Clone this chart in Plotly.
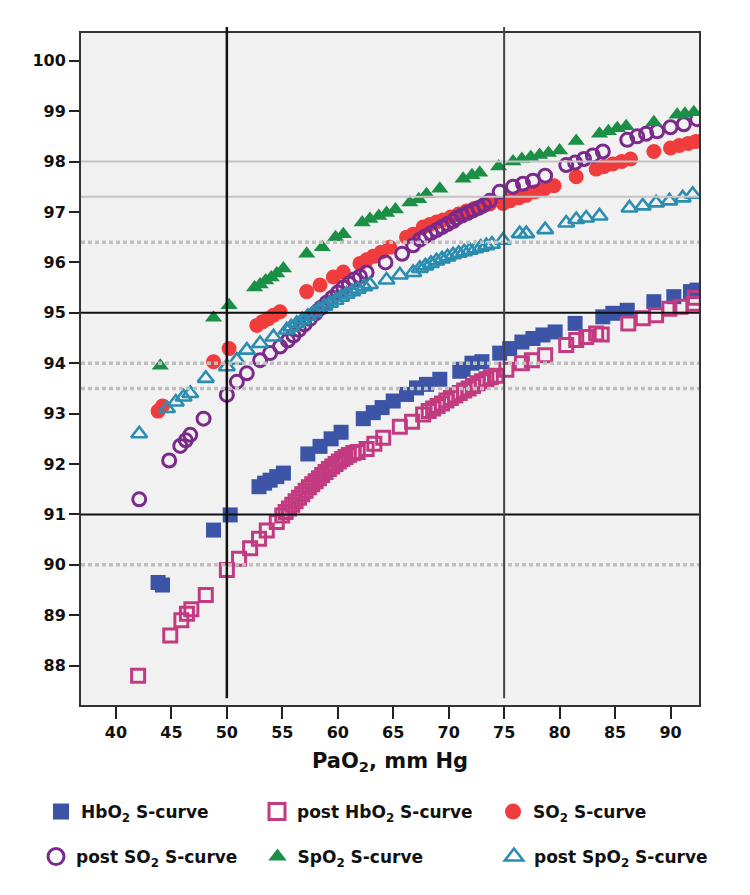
import plotly.graph_objects as go

# ---------------- data ----------------
hbo2_x = [43.8, 44.2, 48.8, 50.3, 52.9, 53.4, 53.9, 54.5, 55.1, 57.3, 58.4, 59.4, 60.3, 62.3, 63.2, 64.0,
          65.0, 66.2, 67.1, 68.0, 69.2, 71.0, 71.3, 72.1, 73.0, 74.6, 75.5, 76.6, 77.6, 78.5, 79.6, 81.4,
          83.9, 84.8, 86.1, 88.5, 90.3, 91.8, 92.4]
hbo2_y = [89.65, 89.6, 90.69, 90.99, 91.55, 91.62, 91.68, 91.75, 91.82, 92.2, 92.35, 92.5, 92.63, 92.9, 93.02, 93.12,
          93.25, 93.38, 93.51, 93.58, 93.68, 93.84, 93.88, 94.0, 94.03, 94.2, 94.29, 94.42, 94.49, 94.56, 94.62, 94.79,
          94.92, 94.99, 95.05, 95.22, 95.32, 95.42, 95.45]

post_hbo2_x = [42.0, 44.9, 45.9, 46.4, 46.8, 48.1, 50.0, 51.1, 52.1, 52.9, 53.6, 54.5,
               55.0, 55.3, 55.6, 55.9, 56.2, 56.5, 56.8, 57.1, 57.4, 57.7, 58.0, 58.3, 58.6, 58.9, 59.2, 59.5,
               59.8, 60.1, 60.4, 60.7, 61.0, 61.4, 61.8, 62.6, 63.3, 64.1, 65.6, 66.7, 67.7,
               68.2, 68.6, 69.0, 69.4, 69.8, 70.2, 70.6, 71.0, 71.4, 71.8, 72.2, 72.6, 73.0, 73.4, 73.8,
               74.3, 75.2, 76.6, 77.5, 78.7, 80.6, 81.5, 82.4, 83.3, 83.8, 86.2, 87.5, 88.7, 89.9, 90.9, 92.1, 92.2]
post_hbo2_y = [87.8, 88.6, 88.9, 89.03, 89.12, 89.4, 89.9, 90.12, 90.33, 90.52, 90.68, 90.85,
               90.98, 91.05, 91.12, 91.19, 91.26, 91.33, 91.4, 91.47, 91.54, 91.6, 91.66, 91.72, 91.78, 91.84, 91.9, 91.95,
               92.0, 92.05, 92.1, 92.14, 92.18, 92.22, 92.24, 92.3, 92.4, 92.52, 92.74, 92.84, 92.98,
               93.05, 93.1, 93.15, 93.2, 93.26, 93.31, 93.36, 93.41, 93.46, 93.5, 93.55, 93.6, 93.64, 93.68, 93.72,
               93.75, 93.87, 94.0, 94.06, 94.16, 94.36, 94.46, 94.52, 94.59, 94.57, 94.79, 94.89, 94.95, 95.08, 95.12, 95.18, 95.3]

so2_x = [43.8, 44.2, 48.8, 50.2, 52.7, 53.2, 53.7, 54.2, 54.8, 57.2, 58.4, 59.6, 60.5, 62.0, 62.6, 63.2,
         63.9, 64.7, 66.2, 66.8, 67.7, 68.3, 68.9, 69.5, 70.2, 70.9, 71.6, 72.3, 73.0, 73.7, 74.9, 75.5,
         76.3, 77.0, 77.8, 78.6, 79.5, 81.5, 83.3, 84.0, 84.8, 85.6, 86.4, 88.5, 90.0, 90.8, 91.6, 92.3]
so2_y = [93.05, 93.15, 94.03, 94.29, 94.75, 94.82, 94.88, 94.95, 95.02, 95.42, 95.55, 95.71, 95.81, 95.98, 96.05, 96.12,
         96.2, 96.3, 96.5, 96.56, 96.7, 96.75, 96.8, 96.84, 96.9, 96.96, 97.02, 97.07, 97.11, 97.16, 97.17, 97.22,
         97.28, 97.33, 97.4, 97.45, 97.52, 97.7, 97.85, 97.9, 97.95, 98.0, 98.05, 98.2, 98.27, 98.32, 98.36, 98.4]

post_so2_x = [42.1, 44.8, 45.8, 46.3, 46.7, 47.9, 50.0, 50.9, 51.8, 53.0, 53.9, 54.8,
              55.5, 56.0, 56.5, 57.0, 57.5, 58.0, 58.5, 59.0, 59.5, 60.0, 60.5, 61.0, 61.5, 62.0, 62.6,
              64.3, 65.8, 66.8, 67.4, 67.9, 68.4, 68.9, 69.4, 69.9, 70.4, 70.7, 71.2, 71.7, 72.2, 72.7,
              73.2, 73.7, 74.6, 75.8, 76.7, 77.6, 78.7, 80.6, 81.4, 82.2, 83.0, 83.9, 86.1, 87.0, 87.8,
              88.8, 90.0, 91.2, 92.4]
post_so2_y = [91.3, 92.07, 92.36, 92.47, 92.58, 92.9, 93.37, 93.63, 93.8, 94.06, 94.2, 94.33,
              94.45, 94.55, 94.66, 94.77, 94.88, 94.99, 95.1, 95.2, 95.3, 95.4, 95.5, 95.58, 95.66, 95.72, 95.8,
              96.0, 96.17, 96.34, 96.45, 96.52, 96.58, 96.64, 96.7, 96.76, 96.82, 96.88, 96.93, 96.98, 97.03, 97.08,
              97.14, 97.22, 97.4, 97.5, 97.56, 97.62, 97.72, 97.93, 97.98, 98.05, 98.12, 98.2, 98.43, 98.5, 98.55,
              98.6, 98.68, 98.74, 98.84]

spo2_x = [44.0, 48.8, 50.2, 52.5, 53.0, 53.5, 54.0, 54.5, 55.1, 57.2, 58.6, 59.8, 60.5, 62.2, 62.9, 63.7,
          64.4, 65.2, 66.5, 67.3, 68.0, 69.2, 71.3, 72.1, 72.8, 74.5, 75.8, 76.6, 77.4, 78.2, 79.0, 80.0,
          81.5, 83.6, 84.4, 85.2, 86.0, 88.5, 90.6, 91.3, 92.1]
spo2_y = [93.95, 94.9, 95.15, 95.5, 95.56, 95.64, 95.7, 95.78, 95.88, 96.17, 96.3, 96.5, 96.56, 96.79, 96.86, 96.92,
          96.98, 97.05, 97.19, 97.25, 97.35, 97.46, 97.66, 97.73, 97.78, 97.9, 98.0, 98.05, 98.09, 98.13, 98.17, 98.22,
          98.41, 98.55, 98.6, 98.66, 98.7, 98.78, 98.93, 98.95, 98.98]

post_spo2_x = [42.1, 44.6, 45.4, 46.1, 46.7, 48.1, 50.0, 50.9, 51.8, 53.0, 54.2, 55.4,
               55.8, 56.3, 56.8, 57.3, 57.8, 58.3, 58.8, 59.3, 59.8, 60.3, 60.8, 61.3, 61.8, 62.4, 62.9,
               64.4, 65.6, 66.8, 67.4, 67.9, 68.4, 68.9, 69.4, 69.9, 70.4, 70.9, 71.4, 71.9, 72.4, 72.9,
               73.4, 73.9, 74.9, 76.4, 77.0, 78.7, 80.6, 81.5, 82.4, 83.6, 86.3, 87.5, 88.7, 89.9, 91.1, 92.0]
post_spo2_y = [92.6, 93.1, 93.23, 93.33, 93.4, 93.7, 93.93, 94.06, 94.26, 94.39, 94.52, 94.66,
               94.72, 94.79, 94.86, 94.93, 95.0, 95.07, 95.13, 95.19, 95.25, 95.31, 95.37, 95.42, 95.47, 95.52, 95.56,
               95.65, 95.75, 95.8, 95.88, 95.93, 95.98, 96.03, 96.07, 96.11, 96.15, 96.18, 96.21, 96.24, 96.27, 96.3,
               96.33, 96.36, 96.44, 96.57, 96.57, 96.65, 96.78, 96.85, 96.88, 96.92, 97.08, 97.12, 97.18, 97.22, 97.28, 97.35]

x_ticks = [40, 45, 50, 55, 60, 65, 70, 75, 80, 85, 90]
y_ticks = [88, 89, 90, 91, 92, 93, 94, 95, 96, 97, 98, 99, 100]

black_hlines = [95.0, 91.0]
gray_solid_hlines = [98.0, 97.3]
gray_dot_hlines = [96.4, 94.0, 93.5, 90.0]
vlines = [50, 75]

labels = ["HbO<sub>2</sub> S-curve", "post HbO<sub>2</sub> S-curve", "SO<sub>2</sub> S-curve",
          "post SO<sub>2</sub> S-curve", "SpO<sub>2</sub> S-curve", "post SpO<sub>2</sub> S-curve"]

# ---------------- styles ----------------
BLUE = "#3b54a6"
MAGENTA = "#c23a80"
RED = "#f03c3c"
PURPLE = "#7a2a8a"
GREEN = "#1c8f46"
TEAL = "#2b8db0"

FONT = "DejaVu Sans"

series = [
    (hbo2_x, hbo2_y, dict(symbol="square", size=15, color=BLUE, line=dict(width=0))),
    (post_hbo2_x, post_hbo2_y, dict(symbol="square-open", size=13, color=MAGENTA, line=dict(width=3))),
    (so2_x, so2_y, dict(symbol="circle", size=15, color=RED, line=dict(width=0))),
    (post_so2_x, post_so2_y, dict(symbol="circle-open", size=13, color=PURPLE, line=dict(width=3))),
    (spo2_x, spo2_y, dict(symbol="triangle-up", size=15, color=GREEN, line=dict(width=0))),
    (post_spo2_x, post_spo2_y, dict(symbol="triangle-up-open", size=14, color=TEAL, line=dict(width=2.6))),
]

fig = go.Figure()
for xs, ys, mk in series:
    fig.add_trace(go.Scatter(x=xs, y=ys, mode="markers", marker=mk, showlegend=False, hoverinfo="skip"))

# legend proxies (no data), one legend each for exact placement
leg_names = ["legend", "legend2", "legend3", "legend4", "legend5", "legend6"]
for (xs, ys, mk), lab, ln in zip(series, labels, leg_names):
    m = dict(mk)
    m["size"] = 16
    fig.add_trace(go.Scatter(x=[None], y=[None], mode="markers", marker=m, name=lab,
                             showlegend=True, legend=ln))

shapes = []
for yv in gray_solid_hlines:
    shapes.append(dict(type="line", xref="paper", x0=0, x1=1, yref="y", y0=yv, y1=yv,
                       line=dict(color="#c4c4c4", width=2), layer="above"))
for yv in gray_dot_hlines:
    shapes.append(dict(type="line", xref="paper", x0=0, x1=1, yref="y", y0=yv, y1=yv,
                       line=dict(color="#c0c0c0", width=3.5, dash="4px,3px"), layer="above"))
for yv in black_hlines:
    shapes.append(dict(type="line", xref="paper", x0=0, x1=1, yref="y", y0=yv, y1=yv,
                       line=dict(color="#111111", width=2), layer="above"))
for i, xv in enumerate(vlines):
    shapes.append(dict(type="line", xref="x", x0=xv, x1=xv, yref="paper", y0=0.01, y1=1.009,
                       line=dict(color="#111111" if i == 0 else "#444444", width=2.5 if i == 0 else 2),
                       layer="above"))

tickfont = dict(family=FONT, size=16, color="#111111", weight="bold")

# page body has an 8px default margin, so the figure is 8px smaller and margins shifted
fig.update_layout(
    width=742, height=887,
    margin=dict(l=73, r=51, t=25, b=190),
    paper_bgcolor="white",
    plot_bgcolor="#f1f1f1",
    shapes=shapes,
    xaxis=dict(range=[36.85, 92.57], tickvals=x_ticks, ticktext=[str(v) for v in x_ticks],
               ticks="outside", ticklen=12, tickwidth=1.5, tickcolor="#222",
               showline=True, linecolor="#333", linewidth=2, mirror=True,
               showgrid=False, zeroline=False, tickfont=tickfont,
               title=dict(text="PaO<sub>2</sub>, mm Hg", standoff=12,
                          font=dict(family=FONT, size=21, color="#111111", weight="bold"))),
    yaxis=dict(range=[87.22, 100.55], tickvals=y_ticks, ticktext=[str(v) for v in y_ticks],
               ticks="outside", ticklen=10, tickwidth=1.5, tickcolor="#222",
               showline=True, linecolor="#333", linewidth=2, mirror=True,
               showgrid=False, zeroline=False, tickfont=tickfont),
)

leg_font = dict(family=FONT, size=17, color="#111111", weight="bold")
leg_pos = [(-0.0647, -0.1592), (0.2848, -0.1592), (0.6667, -0.1592),
           (-0.0728, -0.2262), (0.2856, -0.2262), (0.6683, -0.2262)]
leg_layout = {}
for ln, (lx, ly) in zip(leg_names, leg_pos):
    leg_layout[ln] = dict(x=lx, y=ly, xanchor="left", yanchor="middle", font=leg_font,
                          bgcolor="rgba(0,0,0,0)", borderwidth=0, itemsizing="trace")
fig.update_layout(**leg_layout)

fig.write_html("out.html")
